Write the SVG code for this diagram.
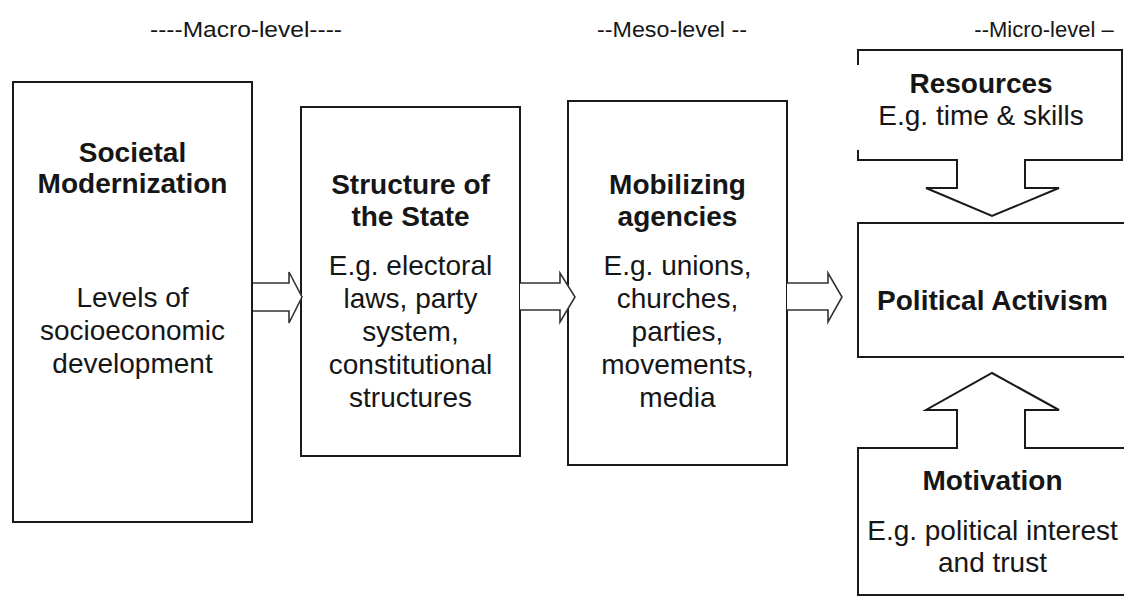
<svg xmlns="http://www.w3.org/2000/svg" width="1124" height="597" viewBox="0 0 1124 597">
<style>
.box{fill:#fff;stroke:#1a1a1a;stroke-width:2}
.arr{fill:#fff;stroke:#333;stroke-width:1.6;stroke-linejoin:miter}
text{font-family:"Liberation Sans",Arial,sans-serif;font-size:28px;fill:#161616;text-anchor:middle}
.b{font-weight:bold}
.hd{font-family:"Liberation Sans Narrow","Liberation Sans",Arial,sans-serif;font-size:22px}
</style>
<rect width="1124" height="597" fill="#fff"/>
<g id="headers">
<text class="hd" x="246" y="37" textLength="192" lengthAdjust="spacingAndGlyphs">----Macro-level----</text>
<text class="hd" x="672" y="37" textLength="150" lengthAdjust="spacingAndGlyphs">--Meso-level --</text>
<text class="hd" x="1044" y="37">--Micro-level –</text>
</g>
<g id="societal">
<rect class="box" x="13" y="82" width="239" height="440"/>
<text class="b" x="132.5" y="162">Societal</text>
<text class="b" x="132.5" y="193">Modernization</text>
<text x="132.5" y="307">Levels of</text>
<text x="132.5" y="340">socioeconomic</text>
<text x="132.5" y="373">development</text>
</g>
<g id="structure">
<rect class="box" x="301" y="107" width="219" height="349"/>
<text class="b" x="410.5" y="194">Structure of</text>
<text class="b" x="410.5" y="226">the State</text>
<text x="410.5" y="275">E.g. electoral</text>
<text x="410.5" y="308">laws, party</text>
<text x="410.5" y="341">system,</text>
<text x="410.5" y="374">constitutional</text>
<text x="410.5" y="407">structures</text>
</g>
<g id="mobilizing">
<rect class="box" x="568" y="101" width="219" height="364"/>
<text class="b" x="677.5" y="194">Mobilizing</text>
<text class="b" x="677.5" y="226">agencies</text>
<text x="677.5" y="275">E.g. unions,</text>
<text x="677.5" y="308">churches,</text>
<text x="677.5" y="341">parties,</text>
<text x="677.5" y="374">movements,</text>
<text x="677.5" y="407">media</text>
</g>
<g id="resources">
<path class="box" d="M858,65 V50 H1122 V160 H1025 V188 H1059 L992,216 L926,188 H957 V160 H858 V150"/>
<text class="b" x="981" y="93">Resources</text>
<text x="981" y="125">E.g. time &amp; skills</text>
</g>
<g id="activism">
<rect class="box" x="858" y="223" width="268" height="134"/>
<text class="b" x="992.5" y="310">Political Activism</text>
</g>
<g id="motivation">
<path class="box" d="M858,595 V448 H957 V410 H926 L992,373 L1059,410 H1025 V448 H1126 V595 Z"/>
<text class="b" x="992.5" y="490">Motivation</text>
<text x="992.5" y="540">E.g. political interest</text>
<text x="992.5" y="572">and trust</text>
</g>
<g id="connectors">
<path class="arr" d="M253,283 H289 V272 L302,297 L289,323 V311 H253"/>
<path class="arr" d="M520,283 H560 V273 L575,297 L560,322 V310 H520"/>
<path class="arr" d="M787,283 H828 V273 L842,297 L828,322 V310 H787"/>
</g>
</svg>
